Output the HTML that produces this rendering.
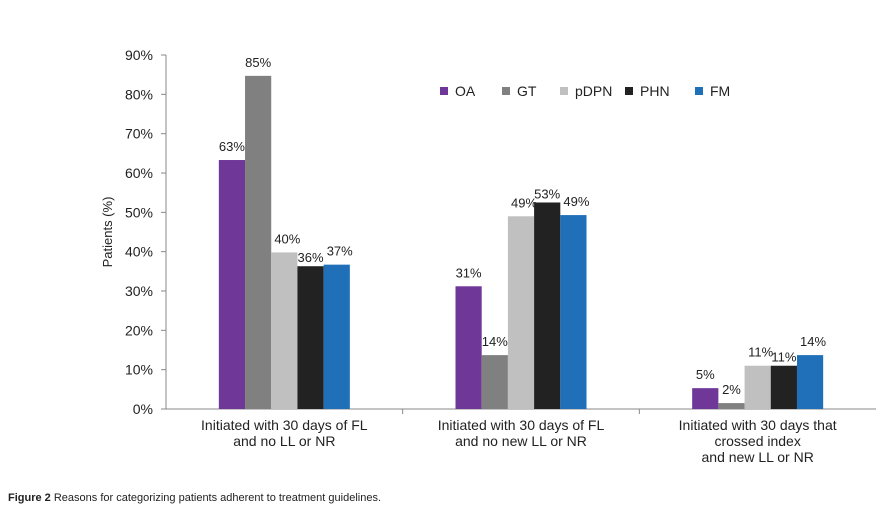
<!DOCTYPE html>
<html><head><meta charset="utf-8"><style>
body{margin:0;background:#fff;font-family:"Liberation Sans",Arial,sans-serif;}
svg{display:block}
</style></head><body>
<svg id="chart" width="880" height="508" font-family="Liberation Sans, Arial, sans-serif"></svg>
<script>
const categories=[["Initiated with 30 days of FL","and no LL or NR"],["Initiated with 30 days of FL","and no new LL or NR"],["Initiated with 30 days that","crossed index","and new LL or NR"]];
const seriesNames=["OA","GT","pDPN","PHN","FM"];
const seriesColors=["#6f3798","#808080","#c0c0c0","#222222","#1f6fb9"];
const valuesOA=[63.3,31.2,5.3];
const valuesGT=[84.7,13.7,1.5];
const valuesPDPN=[39.8,49,11];
const valuesPHN=[36.3,52.5,11];
const valuesFM=[36.7,49.3,13.7];
const labelsOA=["63%","31%","5%"];
const labelsGT=["85%","14%","2%"];
const labelsPDPN=["40%","49%","11%"];
const labelsPHN=["36%","53%","11%"];
const labelsFM=["37%","49%","14%"];
const yTicks=[0,10,20,30,40,50,60,70,80,90];
const series=[valuesOA,valuesGT,valuesPDPN,valuesPHN,valuesFM];
const labels=[labelsOA,labelsGT,labelsPDPN,labelsPHN,labelsFM];
const svg=document.getElementById('chart');
const NS='http://www.w3.org/2000/svg';
const x0=166,x1=876,y0=409,yTop=55;
function y(v){return y0-(v/90)*(y0-yTop);}
const gw=(x1-x0)/categories.length,bw=26.2;
function bx(g,s){return x0+g*gw+gw/2-bw*2.5+s*bw;}
function mk(t,a,txt){const e=document.createElementNS(NS,t);for(const k in a)e.setAttribute(k,a[k]);if(txt!=null)e.textContent=txt;svg.appendChild(e);return e;}
let e=mk('line',{x1:x0,y1:yTop,x2:x0,y2:y0,stroke:'#888'});


e=mk('line',{x1:x0,y1:y0,x2:x1,y2:y0,stroke:'#888'});


yTicks.forEach(t=>{
 e=mk('line',{x1:x0-5,y1:y(t),x2:x0,y2:y(t),stroke:'#888'});
 
 
 e=mk('text',{x:153,y:y(t)+5,'text-anchor':'end','font-size':14,fill:'#222'},t+'%');
 
 
});
for(let g=1;g<categories.length;g++){
 e=mk('line',{x1:x0+g*gw,y1:y0,x2:x0+g*gw,y2:y0+5,stroke:'#888'});
 
 
}
e=mk('text',{x:0,y:0,transform:'translate(112,232) rotate(-90)','text-anchor':'middle','font-size':13,fill:'#222'},'Patients (%)');


categories.forEach((c,g)=>{
 c.forEach((line,i)=>{
  e=mk('text',{x:x0+g*gw+gw/2,y:430+i*16,'text-anchor':'middle','font-size':14,fill:'#222'},line);
  
  
 });
});
series.forEach((vals,s)=>{
 vals.forEach((v,g)=>{
  e=mk('rect',{x:bx(g,s),y:y(v),width:bw,height:y0-y(v),fill:seriesColors[s]});
  
  
  e=mk('text',{x:bx(g,s)+bw/2+(s==2||s==4?3:0),y:y(v)-(s==3?4:9),'text-anchor':'middle','font-size':13,fill:'#222'},labels[s][g]);
  
  
 });
});
const legX=[440,502,560,625,695];
seriesNames.forEach((n,s)=>{
 e=mk('rect',{x:legX[s],y:87,width:8,height:8,fill:seriesColors[s]});
 
 
 e=mk('text',{x:legX[s]+15,y:96,'font-size':14,fill:'#222'},n);
 
 
});
e=mk('text',{x:8,y:501,'font-size':11,fill:'#222'});


e.innerHTML='<tspan font-weight="bold" fill="#222">Figure 2</tspan> Reasons for categorizing patients adherent to treatment guidelines.';
</script>
</body></html>
